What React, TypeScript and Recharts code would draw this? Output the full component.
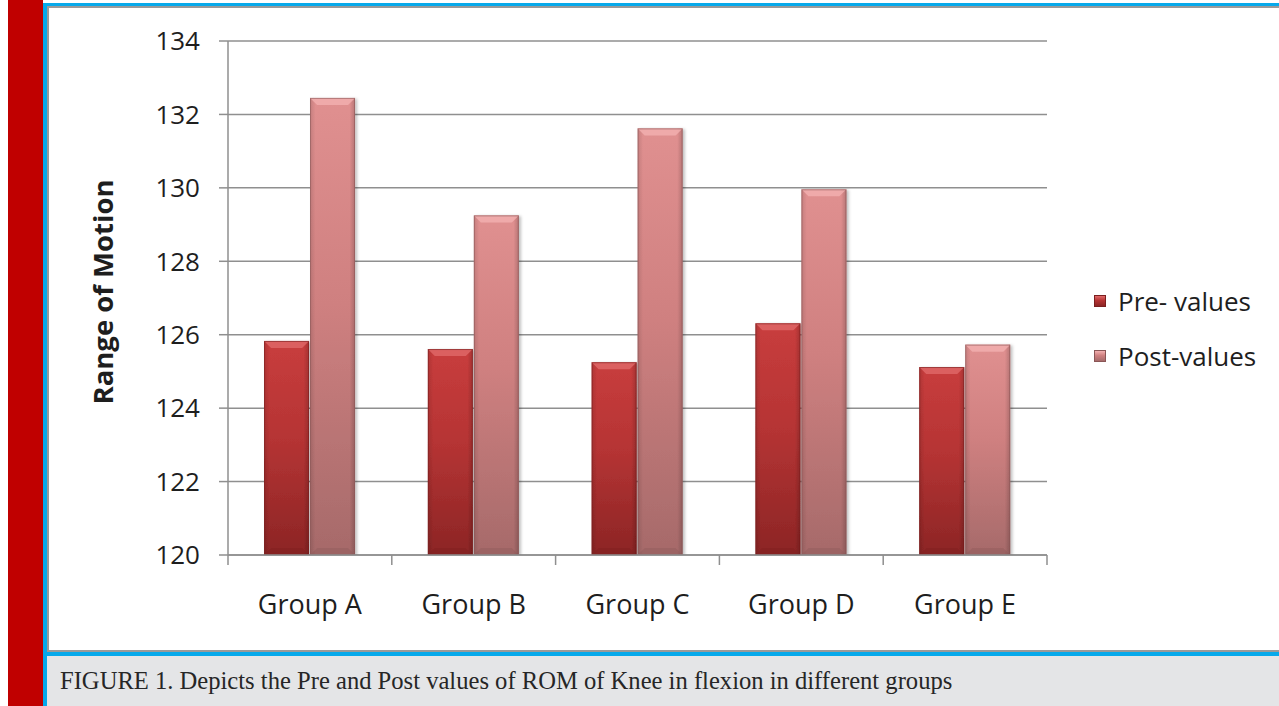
import { Bar, BarChart, CartesianGrid, Legend, XAxis, YAxis } from "recharts";

// Figure 1 – knee flexion ROM, pre vs post, per group.
const GROUPS = ["Group A", "Group B", "Group C", "Group D", "Group E"];
const PRE_VALUES = [125.83, 125.61, 125.25, 126.31, 125.12];
const POST_VALUES = [132.45, 129.25, 131.62, 129.96, 125.73];
const Y_TICKS = [120, 122, 124, 126, 128, 130, 132, 134];
const SERIES = [
  { key: "pre", label: "Pre- values" },
  { key: "post", label: "Post-values" },
];
const CAPTION =
  "FIGURE 1. Depicts the Pre and Post values of ROM of Knee in flexion in different groups";

const rows = GROUPS.map((group, i) => ({
  group,
  pre: PRE_VALUES[i],
  post: POST_VALUES[i],
}));

const SANS = "'Open Sans', 'Noto Sans', sans-serif";
const GRID = "#8f8f8f";
const INK = "#1e1e1e";
const BLUE = "#06a9eb";

const CHART_W = 1228;
const CHART_H = 643;
const MARGIN = { top: 33, right: 229, left: 0, bottom: 36 };
const PLOT_W = CHART_W - MARGIN.left - MARGIN.right - 180;

const PALETTE: Record<string, { top: string; mid: string; bottom: string; bevel: string; edge: string }> = {
  pre: { top: "#c83d3d", mid: "#b63434", bottom: "#8c2525", bevel: "#e06a6a", edge: "#7a1f1f" },
  post: { top: "#e09090", mid: "#cf8080", bottom: "#a66a6a", bevel: "#f2b0b0", edge: "#8a5656" },
};

function GlassBar(props: any) {
  const { x, y, width, height, seriesKey } = props;
  if (!height || height <= 0) return null;
  const c = PALETTE[seriesKey];
  const bev = Math.min(7, width / 4, height / 4);
  return (
    <g filter="url(#barShadow)">
      <rect x={x} y={y} width={width} height={height} fill={`url(#body-${seriesKey})`} />
      <rect x={x} y={y} width={width} height={height} fill="url(#sideShade)" />
      <polygon
        points={`${x},${y} ${x + width},${y} ${x + width - bev},${y + bev} ${x + bev},${y + bev}`}
        fill={c.bevel}
        opacity={0.8}
      />
      <polygon
        points={`${x},${y + height} ${x + width},${y + height} ${x + width - bev},${y + height - bev} ${x + bev},${y + height - bev}`}
        fill={c.edge}
        opacity={0.35}
      />
      <rect x={x + 0.5} y={y + 0.5} width={width - 1} height={height - 1} fill="none" stroke={c.edge} strokeOpacity={0.6} />
    </g>
  );
}

function GroupTick(props: any) {
  const { x, y, payload, index } = props;
  const half = PLOT_W / GROUPS.length / 2;
  return (
    <g>
      <line x1={x - half} x2={x - half} y1={y} y2={y + 10} stroke={GRID} strokeWidth={1.5} />
      {index === GROUPS.length - 1 && (
        <line x1={x + half} x2={x + half} y1={y} y2={y + 10} stroke={GRID} strokeWidth={1.5} />
      )}
      <text x={x} y={y + 49} dy="0.355em" textAnchor="middle" fontSize={27} fontFamily={SANS} fill={INK}>
        {payload.value}
      </text>
    </g>
  );
}

function LegendBox() {
  return (
    <div style={{ fontFamily: SANS, fontSize: 26, color: INK }}>
      {SERIES.map((s, i) => {
        const c = PALETTE[s.key];
        return (
          <div key={s.key} style={{ display: "flex", alignItems: "center", height: 30, marginTop: i ? 25 : 0 }}>
            <span
              style={{
                width: 12,
                height: 12,
                marginRight: 12,
                background: `linear-gradient(${c.bevel}, ${c.mid} 45%, ${c.bottom})`,
                border: `1px solid ${c.edge}`,
                boxSizing: "border-box",
              }}
            />
            <span>{s.label}</span>
          </div>
        );
      })}
    </div>
  );
}

export default function App() {
  return (
    <div style={{ position: "fixed", left: 0, top: 0, width: 1279, height: 706, background: "#fff", overflow: "hidden" }}>
      {/* page furniture */}
      <div style={{ position: "absolute", left: 8, top: 0, width: 35, height: 706, background: "#c00000" }} />
      <div style={{ position: "absolute", left: 43, top: 3, width: 4, height: 703, background: BLUE }} />
      <div style={{ position: "absolute", left: 43, top: 3, width: 1236, height: 3, background: BLUE }} />
      <div style={{ position: "absolute", left: 47, top: 6, width: 1232, height: 2, background: "#9a9a9a" }} />
      <div style={{ position: "absolute", left: 47, top: 6, width: 2, height: 646, background: "#9a9a9a" }} />
      <div style={{ position: "absolute", left: 47, top: 650, width: 1232, height: 2, background: "#9a9a9a" }} />
      <div style={{ position: "absolute", left: 43, top: 652, width: 1236, height: 4, background: BLUE }} />
      <div
        style={{
          position: "absolute",
          left: 47,
          top: 656,
          width: 1232,
          height: 50,
          background: "#e4e5e7",
          fontFamily: "'Liberation Serif', 'DejaVu Serif', serif",
          fontSize: 24.6,
          lineHeight: "50px",
          color: "#262626",
          paddingLeft: 13,
          boxSizing: "border-box",
          whiteSpace: "nowrap",
        }}
      >
        {CAPTION}
      </div>

      <div style={{ position: "absolute", left: 48, top: 8 }}>
        <BarChart width={CHART_W} height={CHART_H} data={rows} margin={MARGIN} barCategoryGap="22%" barGap={1}>
          <defs>
            {SERIES.map((s) => (
              <linearGradient key={s.key} id={`body-${s.key}`} x1="0" y1="0" x2="0" y2="1">
                <stop offset="0%" stopColor={PALETTE[s.key].top} />
                <stop offset="45%" stopColor={PALETTE[s.key].mid} />
                <stop offset="100%" stopColor={PALETTE[s.key].bottom} />
              </linearGradient>
            ))}
            <linearGradient id="sideShade" x1="0" y1="0" x2="1" y2="0">
              <stop offset="0%" stopColor="#000" stopOpacity={0.12} />
              <stop offset="12%" stopColor="#000" stopOpacity={0} />
              <stop offset="88%" stopColor="#000" stopOpacity={0} />
              <stop offset="100%" stopColor="#000" stopOpacity={0.18} />
            </linearGradient>
            <filter id="barShadow" x="-20%" y="-5%" width="140%" height="110%">
              <feDropShadow dx={2} dy={1} stdDeviation={1.5} floodColor="#000" floodOpacity={0.25} />
            </filter>
          </defs>
          <CartesianGrid vertical={false} stroke={GRID} strokeWidth={1.5} />
          <XAxis
            dataKey="group"
            height={60}
            axisLine={{ stroke: GRID, strokeWidth: 1.5 }}
            tickLine={false}
            tickSize={0}
            tickMargin={0}
            interval={0}
            tick={<GroupTick />}
          />
          <YAxis
            width={180}
            domain={[120, 134]}
            ticks={Y_TICKS}
            allowDataOverflow
            axisLine={{ stroke: GRID, strokeWidth: 1.5 }}
            tickLine={{ stroke: GRID, strokeWidth: 1.5 }}
            tickSize={9}
            tickMargin={19}
            tick={{ fontSize: 26, fontFamily: SANS, fill: INK }}
            label={{
              value: "Range of Motion",
              angle: -90,
              position: "insideLeft",
              offset: 55,
              dy: -6,
              style: { textAnchor: "middle", fontSize: 27.5, fontWeight: 700, fontFamily: SANS, fill: INK },
            }}
          />
          <Legend
            layout="horizontal"
            verticalAlign="middle"
            align="center"
            wrapperStyle={{ left: 1046, top: 278, width: 180 }}
            content={<LegendBox />}
          />
          {SERIES.map((s) => (
            <Bar
              key={s.key}
              dataKey={s.key}
              name={s.label}
              isAnimationActive={false}
              shape={(p: any) => <GlassBar {...p} seriesKey={s.key} />}
            />
          ))}
        </BarChart>
      </div>
    </div>
  );
}
